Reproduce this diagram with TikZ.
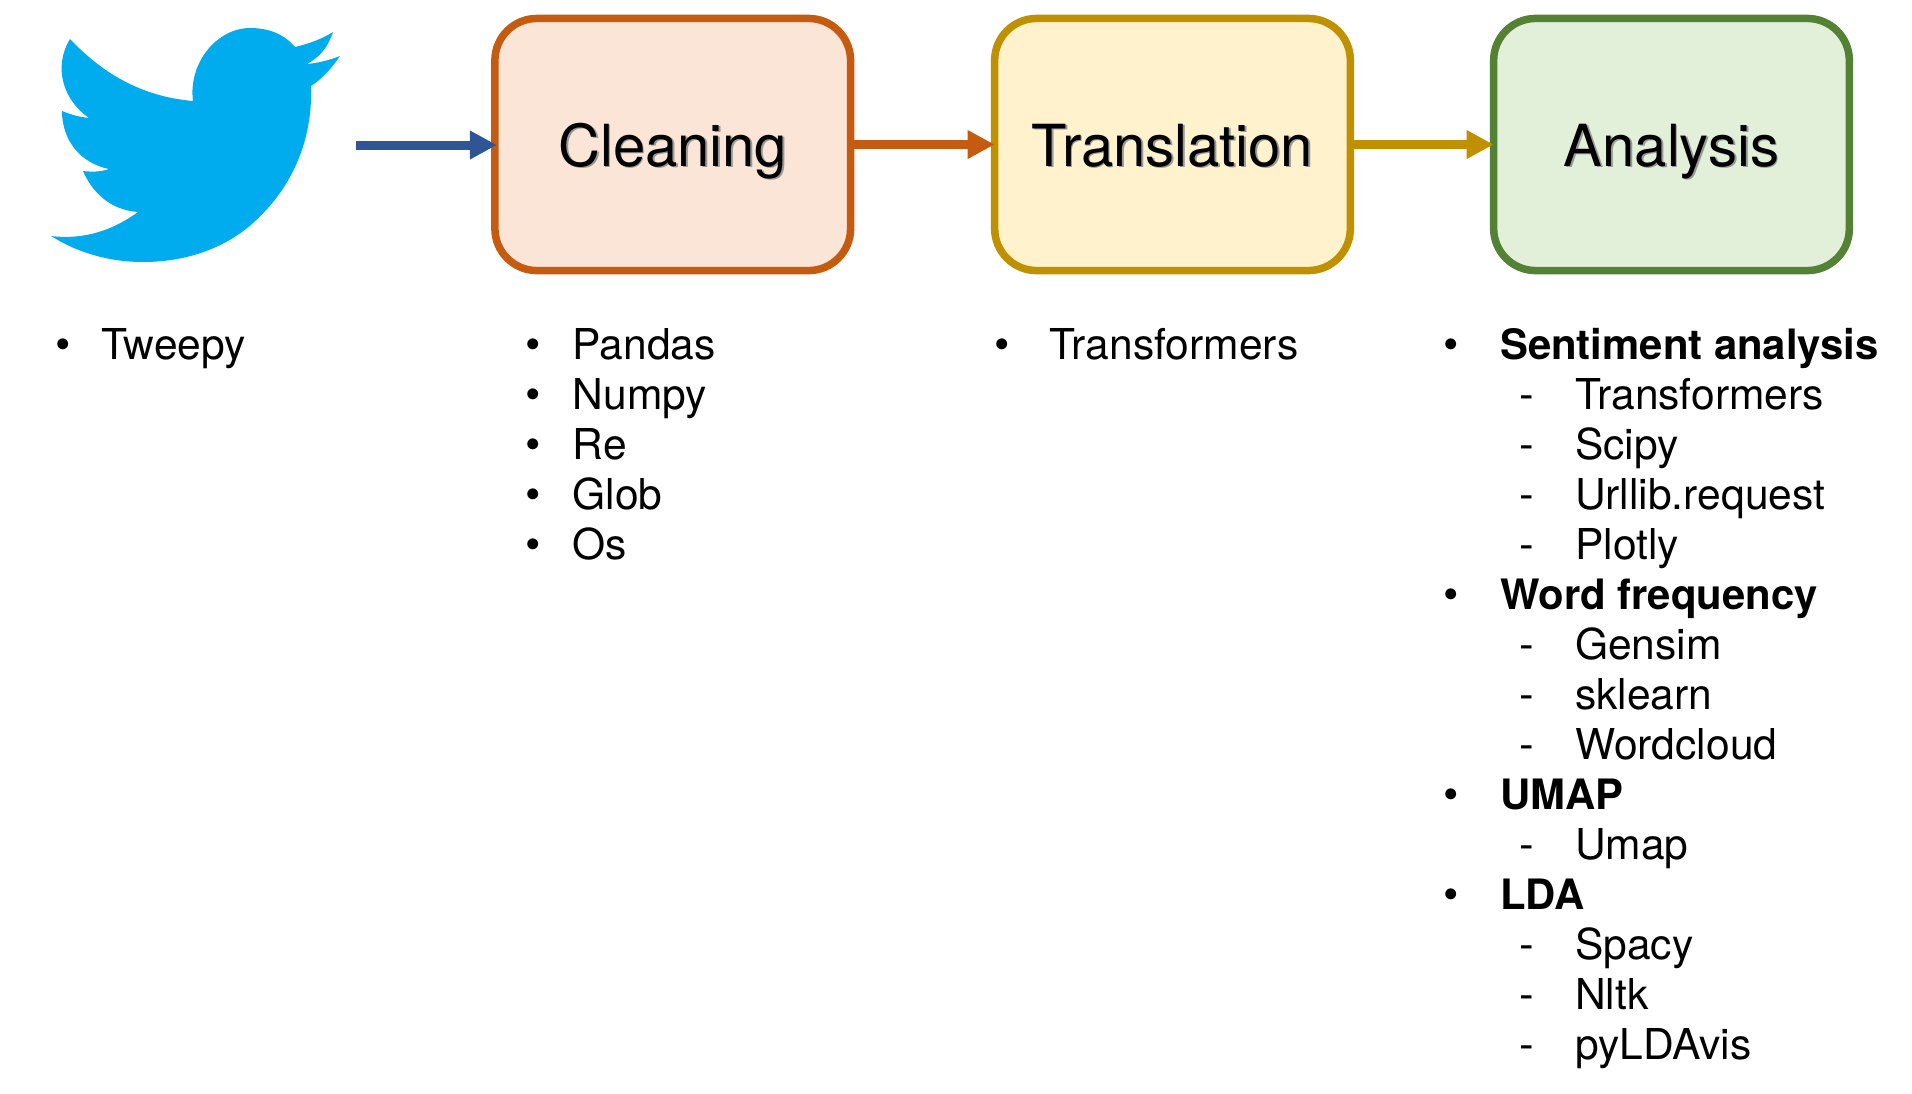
\documentclass[tikz,border=0pt]{standalone}
\usepackage{fontspec}
\setmainfont{TeX Gyre Heros}
\usetikzlibrary{arrows.meta}
\definecolor{birdblue}{HTML}{00ACEE}
\definecolor{arrowblue}{HTML}{2F5597}
\definecolor{cleanline}{HTML}{C55A11}
\definecolor{cleanfill}{HTML}{FBE5D6}
\definecolor{transline}{HTML}{BF9000}
\definecolor{transfill}{HTML}{FFF2CC}
\definecolor{analine}{HTML}{548235}
\definecolor{anafill}{HTML}{E2F0D9}
\newcommand{\softshadow}[1]{\rlap{\kern0.5pt\raisebox{-0.5pt}{\textcolor{black!40}{#1}}}#1}
\tikzset{
	stagebox/.style={draw, line width=0.075cm, rounded corners=0.42cm, outer sep=0pt, minimum width=3.555cm, minimum height=2.52cm, text height=0.43cm, text depth=0cm, inner sep=0pt, font=\fontsize{16.5}{18}\selectfont},
	flow/.style={line width=0.09cm, -{Triangle[length=0.27cm, width=0.27cm]}},
	listtext/.style={anchor=base west, inner sep=0pt, font=\fontsize{12.1}{14}\selectfont},
	listhead/.style={anchor=base west, inner sep=0pt, font=\fontsize{11.9}{14}\selectfont\bfseries},
	listmark/.style={anchor=base, inner sep=0pt, font=\fontsize{12.5}{14}\selectfont}
}
\begin{document}
\begin{tikzpicture}[x=0.01cm, y=-0.01cm]
	\useasboundingbox (0, 0) rectangle (1912, 1093);
	
	% bird
	\fill[birdblue] (70, 39) .. controls (107, 78) and (147, 97) .. (193, 101)
		.. controls (188, 63) and (217, 28) .. (250, 28)
		.. controls (270, 28) and (285, 35) .. (295, 47)
		.. controls (308, 44) and (322, 39) .. (333, 32)
		.. controls (328, 47) and (320, 57) .. (307, 64)
		.. controls (318, 63) and (330, 60) .. (340, 56)
		.. controls (332, 68) and (322, 79) .. (311, 86)
		.. controls (313, 143) and (290, 190) .. (253, 223)
		.. controls (223, 250) and (183, 262) .. (143, 262)
		.. controls (110, 262) and (78, 253) .. (51, 236)
		.. controls (85, 240) and (113, 230) .. (138, 212)
		.. controls (110, 210) and (92, 192) .. (83, 171)
		.. controls (92, 172) and (100, 172) .. (109, 169)
		.. controls (80, 163) and (62, 140) .. (62, 111)
		.. controls (72, 115) and (80, 117) .. (89, 118)
		.. controls (63, 100) and (53, 67) .. (70, 39) -- cycle;
	\coordinate (birdout) at (356, 145);
	
	% boxes
	\node[stagebox, draw=cleanline, fill=cleanfill] (cleaning) at (672.75, 144.5) {\softshadow{Cleaning}};
	\node[stagebox, draw=transline, fill=transfill] (translation) at (1172.5, 144.5) {\softshadow{Translation}};
	\node[stagebox, draw=analine, fill=anafill] (analysis) at (1671.5, 144.5) {\softshadow{Analysis}};
	
	% arrows
	\draw[flow, arrowblue] (birdout) -- ([xshift=0.02cm]birdout -| cleaning.west);
	\draw[flow, cleanline] (cleaning.east) -- (translation.west);
	\draw[flow, transline] ([xshift=0.03cm]translation.east) -- (analysis.west);
	
	% tool lists
	\node[listmark] (tweepymark) at (63.5, 359) {•};
	\node[listtext] (tweepy) at (101, 359) {Tweepy};
	\foreach \txt [count=\i from 0] in {Pandas, Numpy, Re, Glob, Os} {
		\node[listmark] (cleanmark\i) at (533, 359+50.05*\i) {•};
		\node[listtext] (cleanitem\i) at (572, 359+50.05*\i) {\txt};
	}
	\node[listmark] (transmark) at (1002, 359) {•};
	\node[listtext] (transitem) at (1049, 359) {Transformers};
	\foreach \i/\txt in {0/Sentiment analysis, 5/Word frequency, 9/UMAP, 11/LDA} {
		\node[listmark] (anamark\i) at (1451.5, 359+50.05*\i) {•};
		\node[listhead] (anaitem\i) at (1499.5, 359+50.05*\i) {\txt};
	}
	\foreach \i/\txt in {1/Transformers, 2/Scipy, 3/Urllib.request, 4/Plotly, 6/Gensim, 7/sklearn, 8/Wordcloud, 10/Umap, 12/Spacy, 13/Nltk, 14/pyLDAvis} {
		\node[listmark] (anadash\i) at (1527, 359+50.05*\i) {-};
		\node[listtext] (anaitem\i) at (1574.5, 359+50.05*\i) {\txt};
	}
\end{tikzpicture}
\end{document}
